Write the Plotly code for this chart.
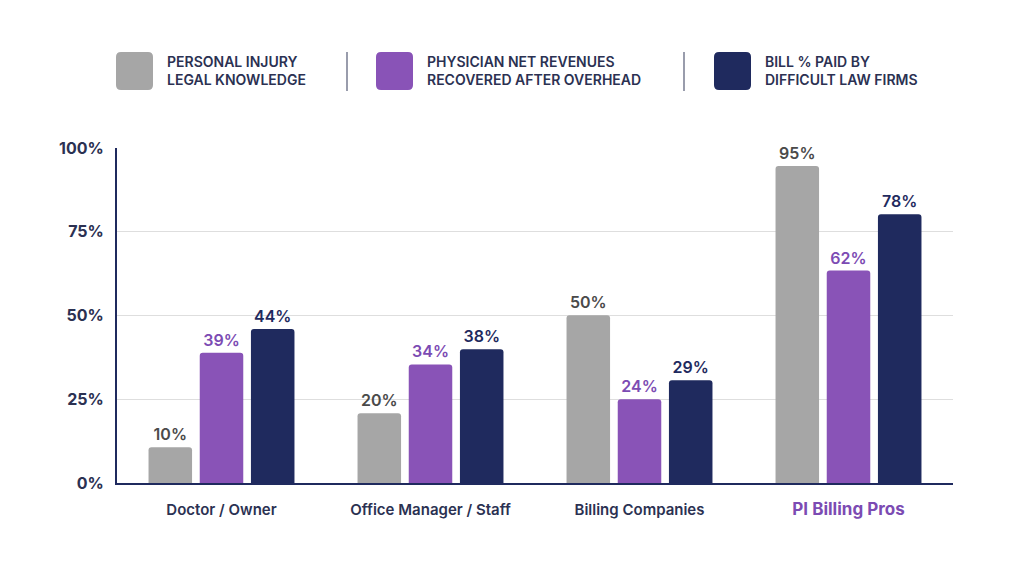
# Grouped bar chart: legal knowledge / net revenues / bill % paid by group

import plotly.graph_objects as go

# -----------------------------------------------------------------------------
# Data
# -----------------------------------------------------------------------------
categories = ['Doctor / Owner', 'Office Manager / Staff', 'Billing Companies', 'PI Billing Pros']

series_names = ['PERSONAL INJURY<br>LEGAL KNOWLEDGE',
                'PHYSICIAN NET REVENUES<br>RECOVERED AFTER OVERHEAD',
                'BILL % PAID BY<br>DIFFICULT LAW FIRMS']

legal_knowledge = [10.7, 20.8, 50.1, 94.6]
net_revenues = [38.9, 35.4, 25.0, 63.4]
bill_paid = [46.0, 39.9, 30.7, 80.2]

legal_labels = ['10%', '20%', '50%', '95%']
revenue_labels = ['39%', '34%', '24%', '62%']
paid_labels = ['44%', '38%', '29%', '78%']

y_ticks = [0, 25, 50, 75, 100]
y_tick_labels = ['0%', '25%', '50%', '75%', '100%']

# -----------------------------------------------------------------------------
# Styling
# -----------------------------------------------------------------------------
bar_colors = ['#A6A6A6', '#8953B7', '#1F2A5E']
label_colors = ['#4A4A4A', '#7C4BB3', '#1F2A5E']
navy = '#1F2A5E'
text_navy = '#2B3152'
font_family = 'Inter, Open Sans, sans-serif'

# page is drawn with an 8px body offset, so target pixels are shifted
OFF = 8
W, H = 1024, 576
L, R, T, B = 117 - OFF, 71 + OFF, 148 - OFF, 93 + OFF
plot_w = W - L - R
plot_h = H - T - B


def px_x(x):
    return (x - OFF - L) / plot_w


def px_y(y):
    return (H - B - (y - OFF)) / plot_h


def rounded_rect(x0, y0, x1, y1, r):
    # pixel box -> paper-space path with rounded corners
    ax0, ax1 = px_x(x0), px_x(x1)
    ay0, ay1 = px_y(y1), px_y(y0)
    rx = r / plot_w
    ry = r / plot_h
    return (f'M{ax0 + rx},{ay0} L{ax1 - rx},{ay0} Q{ax1},{ay0} {ax1},{ay0 + ry} '
            f'L{ax1},{ay1 - ry} Q{ax1},{ay1} {ax1 - rx},{ay1} '
            f'L{ax0 + rx},{ay1} Q{ax0},{ay1} {ax0},{ay1 - ry} '
            f'L{ax0},{ay0 + ry} Q{ax0},{ay0} {ax0 + rx},{ay0} Z')


fig = go.Figure()

for values, labels, name, color, lcolor in zip(
        [legal_knowledge, net_revenues, bill_paid],
        [legal_labels, revenue_labels, paid_labels],
        series_names, bar_colors, label_colors):
    fig.add_trace(go.Bar(
        x=categories,
        y=values,
        name=name,
        text=labels,
        texttemplate='%{text}',
        textposition='outside',
        textfont=dict(family=font_family, size=16, color=lcolor, weight=600),
        marker=dict(color=color, cornerradius=3, line=dict(width=0)),
        cliponaxis=False,
        showlegend=False,
    ))

# -----------------------------------------------------------------------------
# Custom legend (squares + two-line labels + separators)
# -----------------------------------------------------------------------------
legend_x = [116, 376, 714]
for lx, name, color in zip(legend_x, series_names, bar_colors):
    fig.add_shape(type='path', xref='paper', yref='paper',
                  path=rounded_rect(lx, 52, lx + 37, 90, 5),
                  fillcolor=color, line=dict(width=0), layer='above')
    fig.add_annotation(xref='paper', yref='paper', x=px_x(lx + 49), y=px_y(71),
                       xanchor='left', yanchor='middle', align='left', showarrow=False,
                       text=name,
                       font=dict(family=font_family, size=14, color=text_navy, weight=600))
for sx in [347, 684]:
    fig.add_shape(type='line', xref='paper', yref='paper',
                  x0=px_x(sx), x1=px_x(sx), y0=px_y(91), y1=px_y(52),
                  line=dict(color='#555B75', width=1.2))

# -----------------------------------------------------------------------------
# Layout
# -----------------------------------------------------------------------------
tick_text = [c for c in categories[:-1]] + [
    f"<b><span style='color:#7C4BB3;font-size:17px'>{categories[-1]}</span></b>"]

fig.update_layout(
    width=W, height=H,
    margin=dict(l=L, r=R, t=T, b=B),
    plot_bgcolor='white', paper_bgcolor='white',
    barmode='group',
    bargap=0.265,
    bargroupgap=0.15,
    font=dict(family=font_family, color=text_navy),
)

fig.update_xaxes(
    tickvals=categories, ticktext=tick_text,
    range=[-0.5, 3.5],
    showline=True, linecolor=navy, linewidth=2,
    showgrid=False, ticks='outside', ticklen=12, tickcolor='rgba(0,0,0,0)',
    tickfont=dict(family=font_family, size=15, color=text_navy, weight=600),
)
fig.update_yaxes(
    range=[0, 100],
    tickvals=y_ticks, ticktext=y_tick_labels,
    showline=True, linecolor=navy, linewidth=2,
    showgrid=True, gridcolor='#DEDEDE', gridwidth=1,
    zeroline=False, ticks='outside', ticklen=8, tickcolor='rgba(0,0,0,0)',
    tickfont=dict(family=font_family, size=16, color=text_navy, weight=700),
)

fig.write_html('out.html')
